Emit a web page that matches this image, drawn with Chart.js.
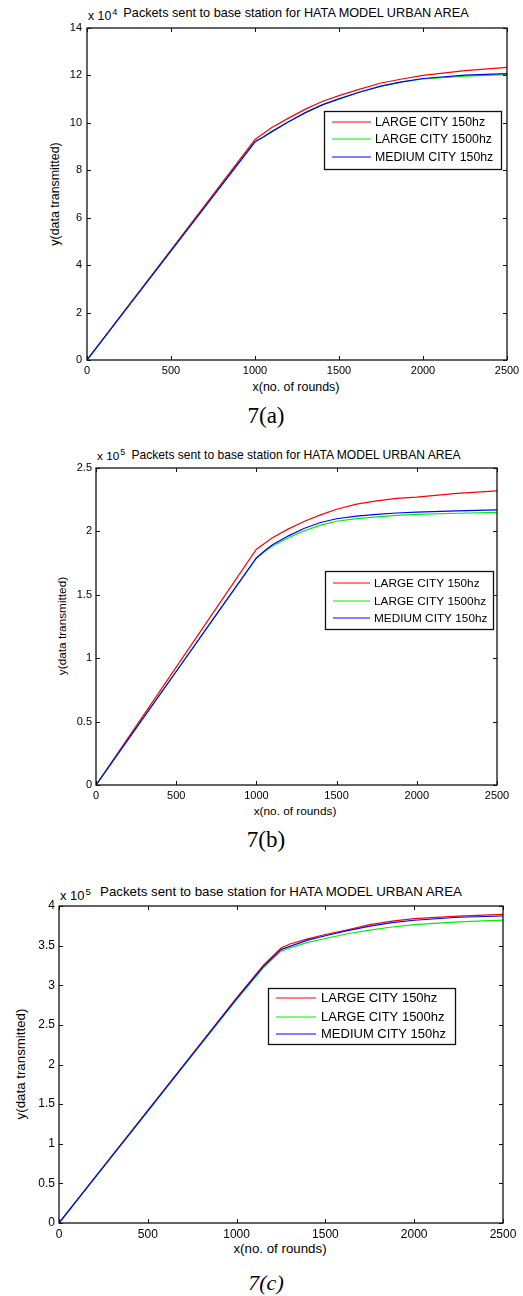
<!DOCTYPE html>
<html>
<head>
<meta charset="utf-8">
<script src="https://cdn.jsdelivr.net/npm/chart.js@4.4.1/dist/chart.umd.min.js"></script>
<style>
body { margin:0; background:#fff; width:523px; height:1296px; position:relative; overflow:hidden; font-family:"Liberation Sans", Arial, sans-serif; color:#000; }
canvas { position:absolute; left:0; }
.t { position:absolute; white-space:nowrap; line-height:1; transform:translate(-50%,-50%); }
.yl { position:absolute; white-space:nowrap; line-height:1; transform:translate(-50%,-50%) rotate(-90deg); }
.ex { position:absolute; white-space:nowrap; line-height:1; }
.ex sup { font-size:75%; vertical-align:baseline; position:relative; top:-0.55em; margin-left:1px; }
.cap { font-family:"Liberation Serif", "Times New Roman", serif; }
</style>
</head>
<body>

<!-- 7(a) -->
<div class="ex" style="left:88px;top:10px;font-size:12.3px">x 10<sup>4</sup></div>
<div class="t" style="left:296px;top:13px;font-size:12.7px">Packets sent to base station for HATA MODEL URBAN AREA</div>
<div class="yl" style="left:55px;top:194px;font-size:12.4px">y(data transmitted)</div>
<div class="t" style="left:296px;top:387px;font-size:12.4px">x(no. of rounds)</div>
<div class="t cap" style="left:266px;top:415px;font-size:23px">7(a)</div>
<canvas id="chartA" width="523" height="367" style="top:18px"></canvas>

<!-- 7(b) -->
<div class="ex" style="left:97px;top:451px;font-size:11.8px">x 10<sup>5</sup></div>
<div class="t" style="left:296px;top:455px;font-size:12.1px">Packets sent to base station for HATA MODEL URBAN AREA</div>
<div class="yl" style="left:63px;top:626px;font-size:11.8px">y(data transmitted)</div>
<div class="t" style="left:295px;top:812px;font-size:11.8px">x(no. of rounds)</div>
<div class="t cap" style="left:266px;top:839px;font-size:23px">7(b)</div>
<canvas id="chartB" width="523" height="352" style="top:458px"></canvas>

<!-- 7(c) -->
<div class="ex" style="left:60px;top:889px;font-size:13px">x 10<sup>5</sup></div>
<div class="t" style="left:281px;top:892px;font-size:13.3px">Packets sent to base station for HATA MODEL URBAN AREA</div>
<div class="yl" style="left:21px;top:1064px;font-size:13.3px">y(data transmitted)</div>
<div class="t" style="left:280px;top:1249px;font-size:13.3px">x(no. of rounds)</div>
<div class="t cap" style="left:266px;top:1283px;font-size:22px;font-style:italic">7(c)</div>
<canvas id="chartC" width="523" height="352" style="top:896px"></canvas>

<script>
// series labels
const seriesNames = ['LARGE CITY 150hz', 'LARGE CITY 1500hz', 'MEDIUM CITY 150hz'];

// 7(a): values in units of 10^4
const roundsA = [0, 250, 500, 750, 1000, 1050, 1100, 1200, 1300, 1400, 1500, 1625, 1750, 1875, 2000, 2250, 2500];
const redA   = [0, 2.32, 4.64, 6.97, 9.3, 9.55, 9.8, 10.2, 10.58, 10.9, 11.15, 11.42, 11.68, 11.85, 12.0, 12.2, 12.34];
const greenA = [0, 2.3, 4.6, 6.9, 9.2, 9.4, 9.63, 10.05, 10.43, 10.76, 11.01, 11.3, 11.55, 11.73, 11.85, 11.97, 12.03];
const blueA  = [0, 2.3, 4.6, 6.9, 9.2, 9.4, 9.63, 10.05, 10.43, 10.76, 11.01, 11.3, 11.55, 11.73, 11.87, 12.01, 12.08];
const yTicksA = [0, 14, 2];

// 7(b): values in units of 10^5
const roundsB = [0, 250, 500, 750, 1000, 1050, 1100, 1200, 1300, 1400, 1500, 1625, 1750, 1875, 2000, 2250, 2500];
const redB   = [0, 0.465, 0.93, 1.395, 1.86, 1.905, 1.95, 2.02, 2.08, 2.13, 2.175, 2.215, 2.24, 2.26, 2.27, 2.3, 2.32];
const greenB = [0, 0.448, 0.895, 1.343, 1.79, 1.84, 1.885, 1.95, 2.005, 2.05, 2.08, 2.1, 2.115, 2.127, 2.135, 2.143, 2.15];
const blueB  = [0, 0.448, 0.895, 1.343, 1.79, 1.845, 1.895, 1.965, 2.025, 2.07, 2.1, 2.12, 2.135, 2.145, 2.152, 2.162, 2.169];
const yTicksB = [0, 2.5, 0.5];

// 7(c): values in units of 10^5
const roundsC = [0, 250, 500, 750, 1000, 1150, 1250, 1300, 1400, 1500, 1625, 1750, 1875, 2000, 2250, 2500];
const redC   = [0, 0.71, 1.42, 2.13, 2.84, 3.25, 3.47, 3.52, 3.585, 3.64, 3.7, 3.765, 3.81, 3.84, 3.872, 3.895];
const greenC = [0, 0.705, 1.41, 2.115, 2.82, 3.22, 3.43, 3.47, 3.54, 3.59, 3.65, 3.695, 3.735, 3.765, 3.8, 3.823];
const blueC  = [0, 0.708, 1.415, 2.123, 2.83, 3.235, 3.45, 3.49, 3.57, 3.625, 3.69, 3.745, 3.79, 3.82, 3.858, 3.874];
const yTicksC = [0, 4, 0.5];

const xTicks = [0, 2500, 500];
const colors = ['#ff0000', '#00ee00', '#0000ff'];
const FONT = "'Liberation Sans', Arial, sans-serif";

// plain numbers like matlab: 1000 not 1,000 and 2 not 2.0
const plain = v => String(+(+v).toFixed(3));

// matlab style box: frame, inward ticks, legend in a bordered box
const matlabBox = {
    id: 'matlabBox',
    afterDatasetsDraw(chart, args, o) {
        const { ctx, chartArea: a, scales: { x, y } } = chart;
        ctx.save();
        ctx.strokeStyle = '#111';
        ctx.lineWidth = 1.3;
        ctx.strokeRect(a.left, a.top, a.right - a.left, a.bottom - a.top);
        ctx.lineWidth = 1;
        ctx.beginPath();
        x.ticks.forEach(t => {
            const px = Math.round(x.getPixelForValue(t.value)) + 0.5;
            ctx.moveTo(px, a.bottom); ctx.lineTo(px, a.bottom - 4);
            ctx.moveTo(px, a.top); ctx.lineTo(px, a.top + 4);
        });
        y.ticks.forEach(t => {
            const py = Math.round(y.getPixelForValue(t.value)) + 0.5;
            ctx.moveTo(a.left, py); ctx.lineTo(a.left + 4, py);
            ctx.moveTo(a.right, py); ctx.lineTo(a.right - 4, py);
        });
        ctx.stroke();

        // legend
        const L = o.legend, off = o.canvasTop;
        ctx.fillStyle = '#fff';
        ctx.fillRect(L.x, L.y - off, L.w, L.h);
        ctx.strokeStyle = '#111';
        ctx.lineWidth = 1.3;
        ctx.strokeRect(L.x + 0.5, L.y - off + 0.5, L.w, L.h);
        ctx.font = L.font + 'px ' + FONT;
        ctx.textBaseline = 'middle';
        chart.data.datasets.forEach((ds, i) => {
            const ry = L.rows[i] - off;
            ctx.strokeStyle = ds.borderColor;
            ctx.lineWidth = ds.borderWidth;
            ctx.beginPath();
            ctx.moveTo(L.line[0], ry); ctx.lineTo(L.line[1], ry);
            ctx.stroke();
            ctx.fillStyle = '#000';
            ctx.fillText(ds.label, L.text, ry + 0.5);
        });
        ctx.restore();
    }
};

function makeChart(id, rounds, series, yt, s) {
    const ctx = document.getElementById(id).getContext('2d');
    return new Chart(ctx, {
        type: 'line',
        data: {
            datasets: series.map((vals, i) => ({
                label: seriesNames[i],
                data: rounds.map((r, k) => ({ x: r, y: vals[k] })),
                borderColor: colors[i],
                borderWidth: 1.2,
                pointRadius: 0,
                tension: 0,
                order: 2 - i
            }))
        },
        options: {
            responsive: false,
            animation: false,
            devicePixelRatio: 1,
            layout: { padding: s.padding },
            plugins: {
                legend: { display: false },
                tooltip: { enabled: false },
                matlabBox: { legend: s.legend, canvasTop: s.canvasTop }
            },
            scales: {
                x: {
                    type: 'linear', min: xTicks[0], max: xTicks[1],
                    grid: { display: false, drawTicks: false },
                    border: { display: false },
                    ticks: { stepSize: xTicks[2], padding: 4, color: '#000', font: { family: FONT, size: s.tick }, callback: plain },
                    afterFit(sc) { sc.height = 25; sc.paddingLeft = 0; sc.paddingRight = 0; }
                },
                y: {
                    type: 'linear', min: yt[0], max: yt[1],
                    grid: { display: false, drawTicks: false },
                    border: { display: false },
                    ticks: { stepSize: yt[2], padding: s.ypad, color: '#000', font: { family: FONT, size: s.tick }, callback: plain },
                    afterFit(sc) { sc.width = 40; sc.paddingTop = 0; sc.paddingBottom = 0; }
                }
            }
        },
        plugins: [matlabBox]
    });
}

makeChart('chartA', roundsA, [redA, greenA, blueA], yTicksA, {
    canvasTop: 18, tick: 11, ypad: 5,
    padding: { top: 10, left: 47, right: 16, bottom: 0 },
    legend: { x: 324, y: 111, w: 177, h: 58, rows: [122, 139, 157], line: [332, 371], text: 375, font: 12.3 }
});
makeChart('chartB', roundsB, [redB, greenB, blueB], yTicksB, {
    canvasTop: 458, tick: 11, ypad: 4,
    padding: { top: 10, left: 56, right: 26, bottom: 0 },
    legend: { x: 325, y: 571, w: 168, h: 58, rows: [583, 601, 618], line: [333, 370], text: 374, font: 11.8 }
});
makeChart('chartC', roundsC, [redC, greenC, blueC], yTicksC, {
    canvasTop: 896, tick: 12, ypad: 4,
    padding: { top: 10, left: 19, right: 20, bottom: 0 },
    legend: { x: 268, y: 988, w: 187, h: 56, rows: [998, 1017, 1034], line: [276, 316], text: 321, font: 13 }
});
</script>
</body>
</html>
